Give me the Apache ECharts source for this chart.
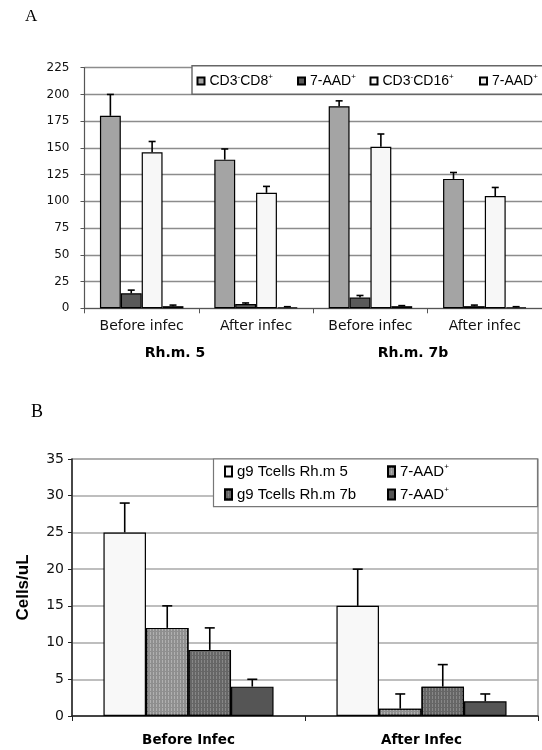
<!DOCTYPE html>
<html><head><meta charset="utf-8">
<script src="https://cdn.jsdelivr.net/npm/echarts@6/dist/echarts.min.js"></script>
<style>html,body{margin:0;padding:0;background:#fff;}#c{width:542px;height:750px;}</style>
</head><body><div id="c"></div>
<script>
// ---------- Panel A data ----------
const categoriesA = ['Before infec', 'After infec', 'Before infec', 'After infec'];
const groupLabelsA = ['Rh.m. 5', 'Rh.m. 7b'];
const seriesNamesA = ['CD3-CD8+', '7-AAD+ (CD8)', 'CD3-CD16+', '7-AAD+ (CD16)'];
const legendLabelsA = ['CD3{s|-}CD8{s|+}', '7-AAD{s|+}', 'CD3{s|-}CD16{s|+}', '7-AAD{s|+}'];
const cd8A = [180, 139, 189, 121];
const cd8ErrA = [20, 10, 5, 6];
const aad8A = [14, 4, 10, 2];
const aad8ErrA = [3, 1, 2, 1];
const cd16A = [146, 108, 151, 105];
const cd16ErrA = [10, 6, 12, 8];
const aad16A = [2, 1, 2, 1];
const aad16ErrA = [1, 0.5, 0.5, 0.5];

// ---------- Panel B data ----------
const categoriesB = ['Before Infec', 'After Infec'];
const seriesNamesB = ['g9 Tcells Rh.m 5', '7-AAD+ (Rh.m 5)', 'g9 Tcells Rh.m 7b', '7-AAD+ (Rh.m 7b)'];
const legendLabelsB = ['g9 Tcells Rh.m 5', '7-AAD{s|+}', 'g9 Tcells Rh.m 7b', '7-AAD{s|+}'];
const g9Rh5B = [25, 15];
const g9Rh5ErrB = [4, 5];
const aadRh5B = [12, 1];
const aadRh5ErrB = [3, 2];
const g9Rh7bB = [9, 4];
const g9Rh7bErrB = [3, 3];
const aadRh7bB = [4, 2];
const aadRh7bErrB = [1, 1];

const GAP = 0.27;
const FONT_AX = 'DejaVu Sans';
const FONT_LG = 'Liberation Sans, Arial, sans-serif';

function errRender(k, n, capW) {
  return function (params, api) {
    const i = api.value(0), v = api.value(1), e = api.value(2);
    const band = api.size([1, 0])[0];
    const usable = band * (1 - GAP);
    const bw = usable / n;
    const base = api.coord([i, v]);
    const top = api.coord([i, v + e]);
    const x = base[0] - usable / 2 + bw * (k + 0.5);
    const st = { stroke: '#000', lineWidth: 1.6 };
    return { type: 'group', children: [
      { type: 'line', shape: { x1: x, y1: base[1], x2: x, y2: top[1] }, style: st },
      { type: 'line', shape: { x1: x - capW / 2, y1: top[1], x2: x + capW / 2, y2: top[1] }, style: st }
    ]};
  };
}
function errSeries(vals, errs, k, n, capW, ax) {
  return { type: 'custom', xAxisIndex: ax, yAxisIndex: ax, z: 5, silent: true,
    renderItem: errRender(k, n, capW),
    data: vals.map((v, i) => [i, v, errs[i]]) };
}
function barSeries(name, vals, color, ax, decal) {
  const it = { color: color, borderColor: '#000', borderWidth: 1.2 };
  if (decal) it.decal = decal;
  return { type: 'bar', name: name, xAxisIndex: ax, yAxisIndex: ax,
    data: vals, barCategoryGap: (GAP * 100) + '%', barGap: '0%', itemStyle: it };
}
const richSup = { s: { fontSize: 8, lineHeight: 8, verticalAlign: 'top', fontFamily: FONT_LG, color: '#000' } };
function mkLegend(name, label, left, top, iw, ih, fs) {
  return { data: [name], left: left, top: top, padding: 0, itemWidth: iw, itemHeight: ih,
    selectedMode: false, icon: 'rect',
    formatter: () => label,
    textStyle: { fontFamily: FONT_LG, fontSize: fs, color: '#000', lineHeight: fs + 2, rich: richSup } };
}

const chart = echarts.init(document.getElementById('c'), null, { renderer: 'canvas' });
const dA = [cd8A, aad8A, cd16A, aad16A];
const eA = [cd8ErrA, aad8ErrA, cd16ErrA, aad16ErrA];
const colA = ['#a4a4a4', '#5a5a5a', '#f7f7f7', '#ececec'];
const dB = [g9Rh5B, aadRh5B, g9Rh7bB, aadRh7bB];
const eB = [g9Rh5ErrB, aadRh5ErrB, g9Rh7bErrB, aadRh7bErrB];
const colB = ['#f8f8f8', '#8f8f8f', '#666666', '#555555'];
const decB = [null,
  { symbol: 'rect', symbolSize: 1, dashArrayX: [1, 2], dashArrayY: [3, 1], color: 'rgba(255,255,255,0.3)' },
  { symbol: 'rect', symbolSize: 1, dashArrayX: [1, 2], dashArrayY: [3, 1], color: 'rgba(255,255,255,0.22)' },
  null];

const series = [];
dA.forEach((d, k) => series.push(barSeries(seriesNamesA[k], d, colA[k], 0)));
dA.forEach((d, k) => series.push(errSeries(d, eA[k], k, 4, 7, 0)));
dB.forEach((d, k) => series.push(barSeries(seriesNamesB[k], d, colB[k], 1, decB[k])));
dB.forEach((d, k) => series.push(errSeries(d, eB[k], k, 4, 10, 1)));

const option = {
  animation: false,
  backgroundColor: '#fff',
  grid: [
    { left: 84.5, top: 67.7, width: 459, height: 240.6, containLabel: false },
    { left: 72, top: 459, width: 466, height: 257, show: true, borderColor: '#8a8a8a', borderWidth: 1.2, backgroundColor: 'transparent' }
  ],
  xAxis: [
    { type: 'category', gridIndex: 0, data: categoriesA,
      axisLine: { lineStyle: { color: '#555', width: 1.2 } },
      axisTick: { show: true, length: 5, lineStyle: { color: '#555' } },
      axisLabel: { margin: 11, fontFamily: FONT_AX, fontSize: 14, color: '#111' } },
    { type: 'category', gridIndex: 1, data: categoriesB,
      axisLine: { lineStyle: { color: '#222', width: 1.5 } },
      axisTick: { show: true, length: 5, lineStyle: { color: '#222' } },
      axisLabel: { margin: 17, fontFamily: FONT_AX, fontSize: 13.5, fontWeight: 'bold', color: '#000' } }
  ],
  yAxis: [
    { type: 'value', gridIndex: 0, min: 0, max: 225, interval: 25,
      axisLine: { show: true, lineStyle: { color: '#555', width: 1.2 } },
      axisTick: { show: true, length: 4, lineStyle: { color: '#555' } },
      axisLabel: { margin: 15, fontFamily: FONT_AX, fontSize: 12, color: '#111' },
      splitLine: { lineStyle: { color: '#8c8c8c', width: 1.3 } } },
    { type: 'value', gridIndex: 1, min: 0, max: 35, interval: 5,
      name: 'Cells/uL', nameLocation: 'middle', nameGap: 40, nameRotate: 90,
      nameTextStyle: { fontFamily: FONT_LG, fontSize: 17, fontWeight: 'bold', color: '#000' },
      axisLine: { show: true, lineStyle: { color: '#222', width: 1.5 } },
      axisTick: { show: true, length: 4, lineStyle: { color: '#222' } },
      axisLabel: { margin: 8, fontFamily: FONT_AX, fontSize: 14, color: '#111' },
      splitLine: { lineStyle: { color: '#a8a8a8', width: 1.6 } } }
  ],
  legend: [
    mkLegend(seriesNamesA[0], legendLabelsA[0], 196.5, 73, 7, 7, 14),
    mkLegend(seriesNamesA[1], legendLabelsA[1], 297, 73, 7, 7, 14),
    mkLegend(seriesNamesA[2], legendLabelsA[2], 369.5, 73, 7, 7, 14),
    mkLegend(seriesNamesA[3], legendLabelsA[3], 479, 73, 7, 7, 14),
    mkLegend(seriesNamesB[0], legendLabelsB[0], 224, 463, 7, 10, 15),
    mkLegend(seriesNamesB[1], legendLabelsB[1], 387, 463, 7, 10, 15),
    mkLegend(seriesNamesB[2], legendLabelsB[2], 224, 486, 7, 10, 15),
    mkLegend(seriesNamesB[3], legendLabelsB[3], 387, 486, 7, 10, 15)
  ],
  graphic: [
    { type: 'rect', z: 3, shape: { x: 192, y: 65.7, width: 360, height: 28.6 },
      style: { fill: '#fff', stroke: '#666', lineWidth: 1.4 } },
    { type: 'rect', z: 3, shape: { x: 213.5, y: 459, width: 324, height: 47.7 },
      style: { fill: '#fff', stroke: '#777', lineWidth: 1.2 } },
    { type: 'text', z: 3, left: 25, top: 8, style: { text: 'A', fontFamily: 'Liberation Serif', fontSize: 17, fill: '#000' } },
    { type: 'text', z: 3, left: 31, top: 403, style: { text: 'B', fontFamily: 'Liberation Serif', fontSize: 18, fill: '#000' } },
    { type: 'text', z: 3, x: 175, y: 353, style: { text: groupLabelsA[0], fontFamily: FONT_AX, fontSize: 14, fontWeight: 'bold', fill: '#000', align: 'center', verticalAlign: 'middle' } },
    { type: 'text', z: 3, x: 413, y: 353, style: { text: groupLabelsA[1], fontFamily: FONT_AX, fontSize: 14, fontWeight: 'bold', fill: '#000', align: 'center', verticalAlign: 'middle' } }
  ],
  series: series
};
chart.setOption(option);
</script>
</body></html>
